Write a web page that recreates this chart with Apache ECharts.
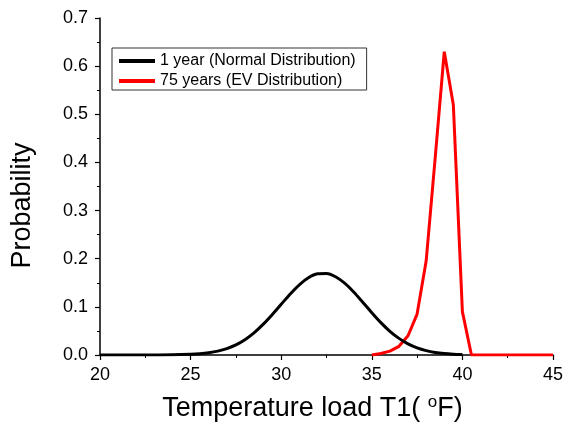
<!DOCTYPE html>
<html>
<head>
<meta charset="utf-8">
<script src="https://cdn.jsdelivr.net/npm/echarts@6/dist/echarts.min.js"></script>
<style>
  html, body { margin: 0; padding: 0; background: #fff; }
  #chart { width: 566px; height: 428px; }
</style>
</head>
<body>
<div id="chart"></div>
<script>
// Temperature load T1 (°F) sampled every 0.5 °F
const normalTemps = [20, 21, 22, 23, 24, 25, 25.5, 26, 26.5, 27, 27.5, 28, 28.5, 29, 29.5, 30,
  30.5, 31, 31.5, 32, 32.5, 33, 33.5, 34, 34.5, 35, 35.5, 36, 36.5, 37, 37.5, 38, 38.5, 39, 39.5, 40];
// 1 year return period — normal distribution
const normalProb = [0, 0, 0, 0.0001, 0.0003, 0.0014, 0.0026, 0.0047, 0.0081, 0.0134, 0.0211, 0.0319,
  0.046, 0.0635, 0.0836, 0.1053, 0.1268, 0.1459, 0.1604, 0.1686, 0.1694, 0.1626, 0.1492, 0.1309,
  0.1097, 0.0879, 0.0673, 0.0492, 0.0345, 0.023, 0.0147, 0.009, 0.0052, 0.0029, 0.0016, 0.0008];

const evTemps = [35, 35.5, 36, 36.5, 37, 37.5, 38, 38.5, 39, 39.5, 40, 40.5, 41, 42, 43, 44, 45];
// 75 year return period — extreme value distribution
const evProb = [0, 0.003, 0.008, 0.018, 0.04, 0.085, 0.195, 0.41, 0.63, 0.52, 0.09, 0, 0, 0, 0, 0, 0];

const seriesNames = ['1 year (Normal Distribution)', '75 years (EV Distribution)'];
const xTicks = { min: 20, max: 45, step: 5 };
const yTicks = { min: 0, max: 0.7, step: 0.1 };

const pairs = (xs, ys) => xs.map((x, i) => [x, ys[i]]);

const FONT = '"Liberation Sans", Arial, sans-serif';

const chart = echarts.init(document.getElementById('chart'), null, { renderer: 'canvas' });

const axisCommon = {
  axisLine: { show: true, onZero: false, lineStyle: { color: '#000', width: 1.5 } },
  axisTick: { show: true, inside: false, length: 5, lineStyle: { color: '#000', width: 1.2 } },
  minorTick: { show: true, splitNumber: 2, length: 3, lineStyle: { color: '#000', width: 1 } },
  splitLine: { show: false },
  minorSplitLine: { show: false }
};

chart.setOption({
  animation: false,
  backgroundColor: '#fff',
  textStyle: { fontFamily: FONT },
  grid: { left: 100, right: 12, top: 18, bottom: 73, containLabel: false },
  legend: {
    orient: 'vertical',
    left: 112,
    top: 48,
    padding: [4, 11, 0, 7],
    itemGap: 2,
    itemWidth: 36,
    itemHeight: 4,
    icon: 'rect',
    borderColor: '#333',
    borderWidth: 1,
    backgroundColor: '#fff',
    textStyle: { fontFamily: FONT, fontSize: 16, color: '#000', lineHeight: 18 },
    data: seriesNames
  },
  xAxis: Object.assign({
    type: 'value',
    min: xTicks.min,
    max: xTicks.max,
    interval: xTicks.step,
    name: 'Temperature load T1( {sup|o}F)',
    nameLocation: 'middle',
    nameGap: 39,
    nameTextStyle: {
      fontFamily: FONT, fontSize: 27, color: '#000',
      padding: [0, 28, 0, 0],
      rich: { sup: { fontFamily: FONT, fontSize: 17, color: '#000', verticalAlign: 'top', padding: [0, 0, 12, 0] } }
    },
    axisLabel: { fontFamily: FONT, fontSize: 18, color: '#000', margin: 11 }
  }, axisCommon),
  yAxis: Object.assign({
    type: 'value',
    min: yTicks.min,
    max: yTicks.max,
    interval: yTicks.step,
    name: 'Probability',
    nameLocation: 'middle',
    nameGap: 64,
    nameTextStyle: { fontFamily: FONT, fontSize: 27, color: '#000', padding: [0, 38, 0, 0] },
    axisLabel: {
      fontFamily: FONT, fontSize: 18, color: '#000', margin: 12,
      formatter: v => v.toFixed(1)
    }
  }, axisCommon),
  series: [
    {
      name: seriesNames[0],
      type: 'line',
      data: pairs(normalTemps, normalProb),
      showSymbol: false,
      smooth: 0.3,
      lineStyle: { color: '#000', width: 3 },
      itemStyle: { color: '#000' },
      z: 3
    },
    {
      name: seriesNames[1],
      type: 'line',
      data: pairs(evTemps, evProb),
      showSymbol: false,
      lineStyle: { color: '#ff0000', width: 3 },
      itemStyle: { color: '#ff0000' },
      z: 2
    }
  ]
});
</script>
</body>
</html>
